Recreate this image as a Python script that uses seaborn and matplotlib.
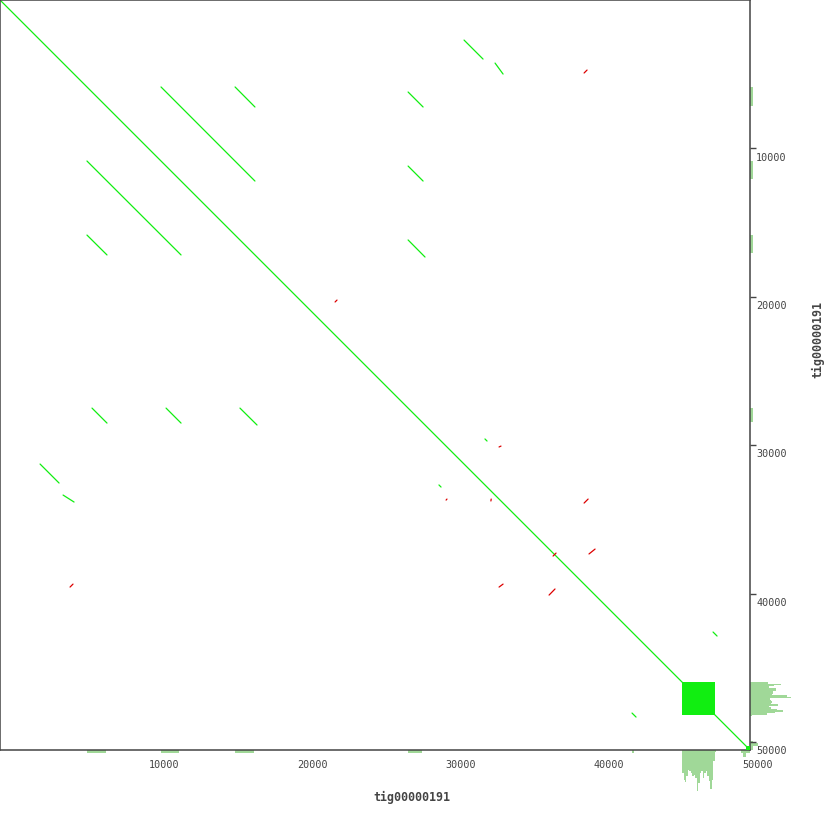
"""
Self dot plot of tig00000191 with coverage margins (bottom / right).
"""

import numpy as np
import pandas as pd
import matplotlib
matplotlib.use('Agg')
import matplotlib.pyplot as plt
from matplotlib.patches import Rectangle
from matplotlib.transforms import ScaledTranslation
import seaborn as sns

sns.set_style('white')
plt.rcParams['font.family'] = ['DejaVu Sans Mono']

CONTIG = 'tig00000191'
LENGTH = 50540

GREEN = '#11ee11'
RED = '#dd0000'
COV = '#a0d898'
INK = '#444444'

# ── alignments (bp): query on x, reference on y ─────────────────────────
FWD_X0 = [0, 10850, 15840, 27500, 5860, 27500, 5860, 27500, 6200, 11190,
          16170, 31270, 2700, 33360, 4250, 32680, 29580, 48050, 42590]
FWD_X1 = [50540, 17180, 17180, 28510, 12200, 28510, 7210, 28640, 7210, 12200,
          17320, 32550, 3980, 33900, 4990, 32820, 29720, 48320, 42860]
FWD_Y0 = [0, 5860, 5860, 6200, 10850, 11190, 15840, 16170, 27500, 27500,
          27500, 2700, 31270, 4250, 33360, 29580, 32680, 42590, 48050]
FWD_Y1 = [50540, 12200, 7210, 7210, 17180, 12200, 17180, 17320, 28510, 28510,
          28640, 3980, 32550, 4990, 33830, 29720, 32820, 42860, 48320]

REV_X0 = [39360, 4720, 22580, 33630, 30060, 33080, 39360, 33630, 37270, 39690, 37000]
REV_X1 = [39560, 4920, 22710, 33760, 30120, 33100, 39630, 33900, 37470, 40100, 37400]
REV_Y0 = [4920, 39560, 20350, 30120, 33700, 33760, 33900, 39560, 37470, 37330, 40100]
REV_Y1 = [4720, 39360, 20220, 30060, 33630, 33630, 33630, 39360, 37270, 37000, 39690]

# tandem repeat blocks (start, end) shown as dense squares
TR_START = [45960, 50270]
TR_END = [48160, 50540]

# ── coverage ────────────────────────────────────────────────────────────
# single-copy repeat regions, depth 1
COVX_LO = [5860, 10850, 15840, 27500, 42590]
COVX_HI = [7140, 12060, 17120, 28440, 42700]
COVX_VAL = [1, 1, 1, 1, 1]
COVY_LO = [5860, 10850, 15840, 27500]
COVY_HI = [7140, 12060, 17050, 28440]
COVY_VAL = [1, 1, 1, 1]

# tandem block, 100 bp bins
TR_BINS = 23
TR_COV_X = [7.7, 10.0, 10.7, 8.8, 6.6, 7.0, 7.7, 8.8, 8.2, 9.3, 13.8, 11.0,
            7.7, 6.9, 9.3, 7.7, 7.1, 8.8, 10.4, 12.9, 9.9, 3.8, 0.5]
TR_COV_Y = [6.0, 10.3, 8.0, 6.4, 8.6, 8.6, 7.8, 7.8, 7.4, 12.4, 13.6, 6.7,
            6.9, 7.4, 6.9, 9.3, 6.3, 6.9, 9.1, 11.1, 8.2, 5.6, 0.7]

# contig end
TAIL_EDGES = [49900, 50100, 50300, 50540]
TAIL_COV_X = [1.0, 2.3, 1.0]
TAIL_COV_Y = [1.0, 2.6, 1.0]

# ── build tables ────────────────────────────────────────────────────────
rows = []
for i, (x0, x1, y0, y1) in enumerate(zip(FWD_X0, FWD_X1, FWD_Y0, FWD_Y1)):
    rows += [('f%d' % i, '+', x0, y0), ('f%d' % i, '+', x1, y1)]
for i, (x0, x1, y0, y1) in enumerate(zip(REV_X0, REV_X1, REV_Y0, REV_Y1)):
    rows += [('r%d' % i, '-', x0, y0), ('r%d' % i, '-', x1, y1)]
segs = pd.DataFrame(rows, columns=['seg', 'strand', 'x', 'y'])


def coverage_table(lo, hi, val, tr_val, tail_val):
    tr_edges = np.linspace(TR_START[0], TR_END[0] + 100, TR_BINS + 1)
    lo = list(lo) + list(tr_edges[:-1]) + TAIL_EDGES[:-1]
    hi = list(hi) + list(tr_edges[1:]) + TAIL_EDGES[1:]
    val = list(val) + list(tr_val) + list(tail_val)
    edges = [float(e) for e in np.unique(np.r_[lo, hi])]
    mids = (np.array(lo) + np.array(hi)) / 2
    return edges, mids, np.array(val, dtype=float)


# ── figure ──────────────────────────────────────────────────────────────
W = 830.0
MAIN = 750.0
fig = plt.figure(figsize=(8.3, 8.3), dpi=100)
ax = fig.add_axes([0, (W - MAIN) / W, MAIN / W, MAIN / W])
axb = fig.add_axes([0, 0, MAIN / W, (W - MAIN) / W])
axr = fig.add_axes([MAIN / W, (W - MAIN) / W, (W - MAIN) / W, MAIN / W])

sns.lineplot(data=segs, x='x', y='y', units='seg', hue='strand',
             estimator=None, sort=False, palette={'+': GREEN, '-': RED},
             linewidth=0.9, legend=False, ax=ax)
for s, e in zip(TR_START, TR_END):
    ax.add_patch(Rectangle((s, s), e - s, e - s, color=GREEN, lw=0, zorder=3))

ax.set_xlim(0, LENGTH)
ax.set_ylim(LENGTH, 0)
ticks = [10000, 20000, 30000, 40000, 50000]
ax.set_xticks(ticks)
ax.set_yticks(ticks)
ax.set_xticklabels([str(t) for t in ticks])
ax.set_yticklabels([str(t) for t in ticks])
ax.yaxis.tick_right()
ax.set_xlabel('')
ax.set_ylabel('')
for sp in ax.spines.values():
    sp.set_visible(True)
    sp.set_color(INK)
    sp.set_linewidth(1.1)
ax.tick_params(axis='both', direction='out', length=4, width=1, color=INK,
               labelsize=7.3, labelcolor=INK)
ax.tick_params(axis='x', pad=3)
ax.tick_params(axis='y', pad=0.5)
for lab in ax.get_xticklabels():
    lab.set_ha('left')
shift = ScaledTranslation(0, -3 / 72, fig.dpi_scale_trans)
for lab in ax.get_yticklabels():
    lab.set_va('top')
    lab.set_transform(lab.get_transform() + shift)

# coverage margins (1 depth unit = 3 px)
ex, mx, vx = coverage_table(COVX_LO, COVX_HI, COVX_VAL, TR_COV_X, TAIL_COV_X)
sns.histplot(x=mx, weights=vx, bins=ex, color=COV, alpha=1, linewidth=0,
             edgecolor='none', ax=axb)
axb.set_xlim(0, LENGTH)
axb.set_ylim((W - MAIN) / 3, 0)
axb.axis('off')
axb.patch.set_alpha(0)

ey, my, vy = coverage_table(COVY_LO, COVY_HI, COVY_VAL, TR_COV_Y, TAIL_COV_Y)
sns.histplot(y=my, weights=vy, bins=ey, color=COV, alpha=1, linewidth=0,
             edgecolor='none', ax=axr)
axr.set_ylim(LENGTH, 0)
axr.set_xlim(0, (W - MAIN) / 3)
axr.axis('off')
axr.patch.set_alpha(0)

ax.set_zorder(3)
ax.patch.set_alpha(0)

fig.text(412 / W, 1 - 797 / W, CONTIG, ha='center', va='center',
         fontsize=8.4, fontweight='bold', color=INK)
fig.text(818 / W, 1 - 339 / W, CONTIG, ha='center', va='center',
         rotation=90, fontsize=8.4, fontweight='bold', color=INK)

fig.savefig('out.png', dpi=100, facecolor='white')
